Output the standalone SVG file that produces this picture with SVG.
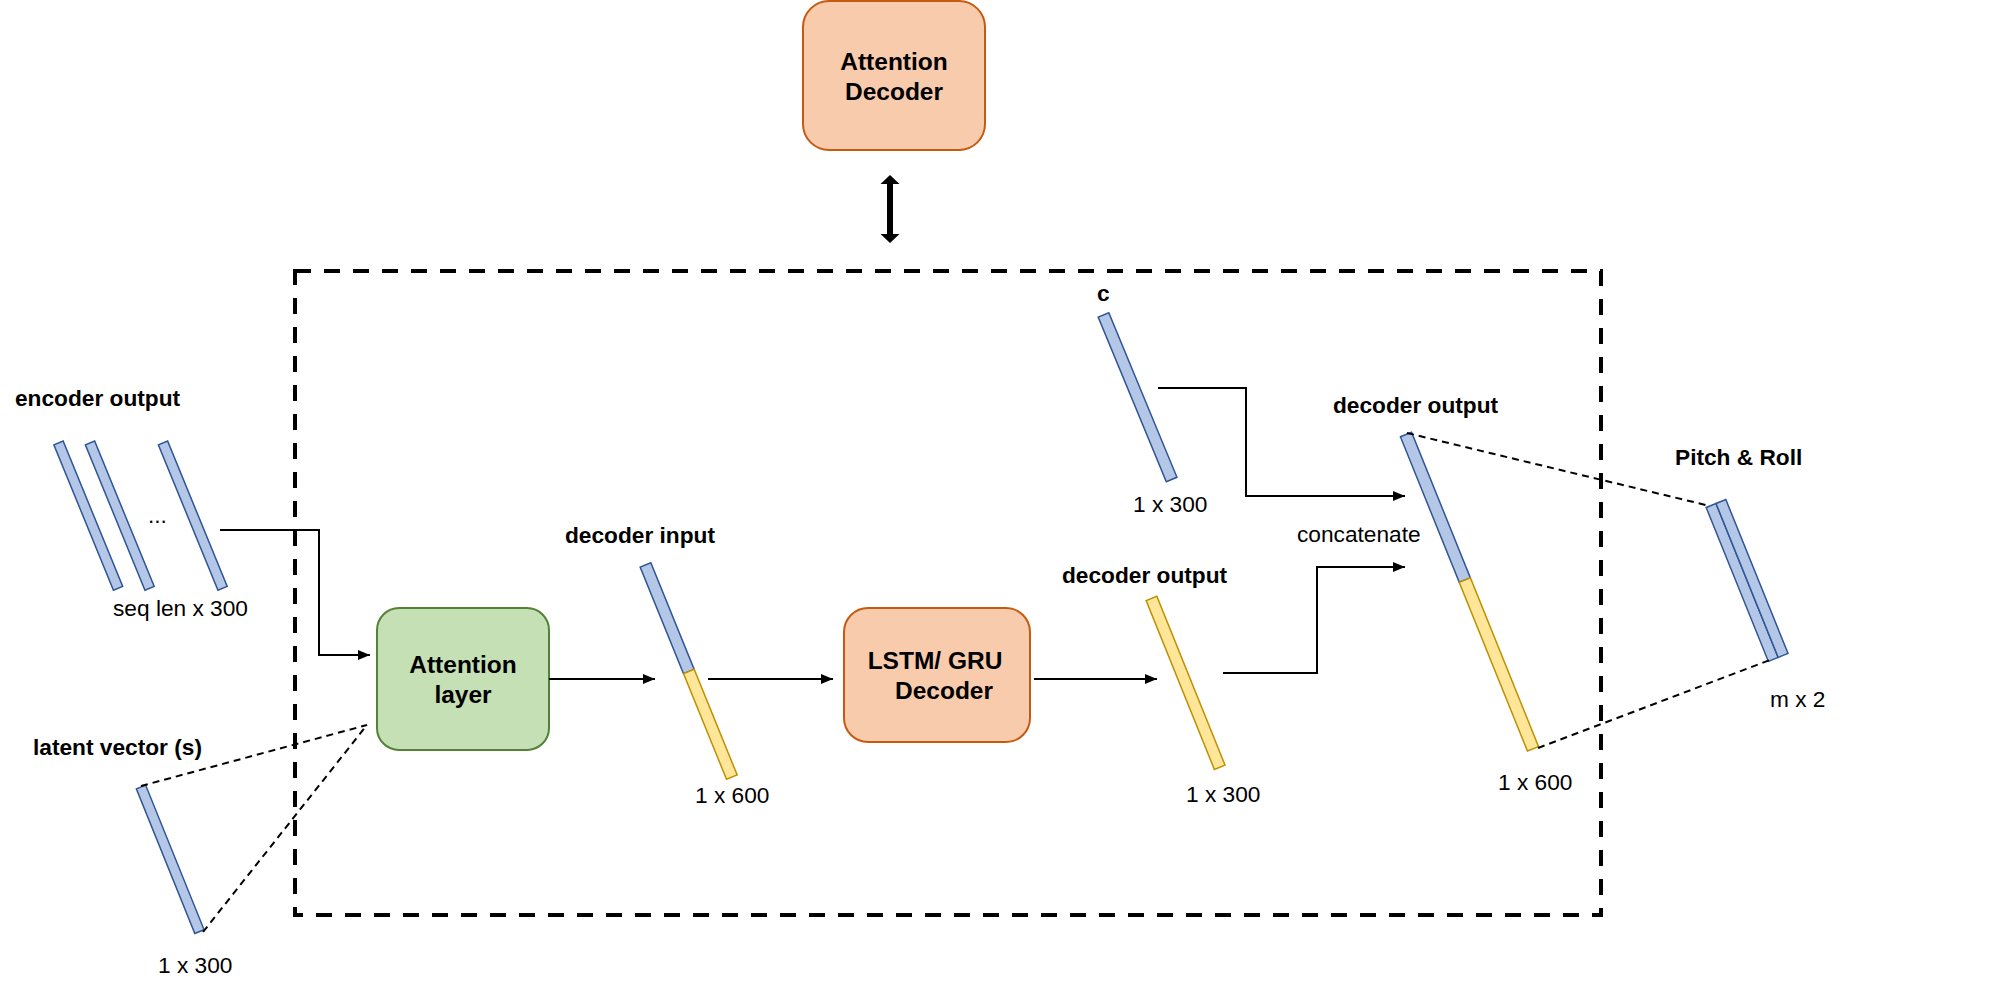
<svg xmlns="http://www.w3.org/2000/svg" width="1994" height="994" viewBox="0 0 1994 994">
<defs>
<marker id="ah" markerUnits="userSpaceOnUse" markerWidth="14" markerHeight="12" refX="12" refY="5" orient="auto">
<path d="M0,0 L12,5 L0,10 z" fill="#000"/>
</marker>
<style>
.lbl{font-family:"Liberation Sans",Arial,sans-serif;font-size:22.7px;fill:#000}
.b{font-weight:bold}
.box{font-family:"Liberation Sans",Arial,sans-serif;font-size:24.5px;font-weight:bold;fill:#000;text-anchor:middle}
.blue{fill:#B4C7E7;stroke:#2F5597;stroke-width:1.5}
.yel{fill:#FFE699;stroke:#BF9000;stroke-width:1.5}
.orange{fill:#F8CBAD;stroke:#C55A11;stroke-width:2}
.green{fill:#C5E0B4;stroke:#538135;stroke-width:2}
.conn{fill:none;stroke:#000;stroke-width:2}
.dash{fill:none;stroke:#000;stroke-width:2;stroke-dasharray:7 5}
</style>
</defs>
<rect width="1994" height="994" fill="#fff"/>

<g id="frame">
<rect x="295" y="271" width="1306" height="644" fill="none" stroke="#000" stroke-width="4" stroke-dasharray="16 13"/>
</g>

<g id="attention-decoder">
<rect class="orange" x="803" y="1" width="182" height="149" rx="26"/>
<text class="box" x="894" y="70">Attention</text>
<text class="box" x="894" y="100">Decoder</text>
</g>

<g id="double-arrow">
<polygon points="890,175 899.5,184 893,184 893,234 899.5,234 890,243 880.5,234 887,234 887,184 880.5,184" fill="#000"/>
</g>

<g id="encoder-output">
<text class="lbl b" x="15" y="406">encoder output</text>
<g transform="translate(58.5,443) rotate(-22.3)"><rect class="blue" x="-5" y="0" width="10" height="157"/></g>
<g transform="translate(90,443) rotate(-22.3)"><rect class="blue" x="-5" y="0" width="10" height="157"/></g>
<g transform="translate(163,443) rotate(-22.3)"><rect class="blue" x="-5" y="0" width="10" height="157"/></g>
<text class="lbl" x="148" y="523">...</text>
<text class="lbl" x="113" y="616">seq len x 300</text>
</g>

<g id="latent-vector">
<text class="lbl b" x="33" y="755">latent vector (s)</text>
<g transform="translate(141,787) rotate(-22)"><rect class="blue" x="-5" y="0" width="10" height="156"/></g>
<text class="lbl" x="158" y="973">1 x 300</text>
</g>

<g id="attention-layer">
<rect class="green" x="377" y="608" width="172" height="142" rx="22"/>
<text class="box" x="463" y="673">Attention</text>
<text class="box" x="463" y="703">layer</text>
</g>

<g id="decoder-input">
<text class="lbl b" x="565" y="543">decoder input</text>
<g transform="translate(645.5,565) rotate(-22.15)">
<rect class="blue" x="-5.75" y="0" width="11.5" height="115"/>
<rect class="yel" x="-5.75" y="115" width="11.5" height="114"/>
</g>
<text class="lbl" x="695" y="803">1 x 600</text>
</g>

<g id="lstm-decoder">
<rect class="orange" x="844" y="608" width="186" height="134" rx="24"/>
<text class="box" x="935" y="669">LSTM/ GRU</text>
<text class="box" x="944" y="699">Decoder</text>
</g>

<g id="decoder-output-mid">
<text class="lbl b" x="1062" y="583">decoder output</text>
<g transform="translate(1151.5,598.5) rotate(-22)"><rect class="yel" x="-5.75" y="0" width="11.5" height="182"/></g>
<text class="lbl" x="1186" y="802">1 x 300</text>
</g>

<g id="c-vector">
<text class="lbl b" x="1097" y="301">c</text>
<g transform="translate(1103.5,315) rotate(-22.5)"><rect class="blue" x="-5.75" y="0" width="11.5" height="178"/></g>
<text class="lbl" x="1133" y="512">1 x 300</text>
</g>

<g id="decoder-output-concat">
<text class="lbl b" x="1333" y="413">decoder output</text>
<g transform="translate(1406,434.5) rotate(-22)">
<rect class="blue" x="-6" y="0" width="12" height="157"/>
<rect class="yel" x="-6" y="157" width="12" height="182"/>
</g>
<text class="lbl" x="1498" y="790">1 x 600</text>
<text class="lbl" x="1297" y="542">concatenate</text>
</g>

<g id="pitch-roll">
<text class="lbl b" x="1675" y="465">Pitch &amp; Roll</text>
<g transform="translate(1716,503.5) rotate(-22)">
<rect class="blue" x="-10.6" y="0" width="10.6" height="166"/>
<rect class="blue" x="0" y="0" width="10.6" height="166"/>
</g>
<text class="lbl" x="1770" y="707">m x 2</text>
</g>

<g id="connectors">
<polyline class="conn" points="220,530 319,530 319,655 370,655" marker-end="url(#ah)"/>
<line class="conn" x1="549" y1="679" x2="655" y2="679" marker-end="url(#ah)"/>
<line class="conn" x1="708" y1="679" x2="833" y2="679" marker-end="url(#ah)"/>
<line class="conn" x1="1034" y1="679" x2="1157" y2="679" marker-end="url(#ah)"/>
<polyline class="conn" points="1223,673 1317,673 1317,567 1405,567" marker-end="url(#ah)"/>
<polyline class="conn" points="1158,388 1246,388 1246,496 1405,496" marker-end="url(#ah)"/>
<line class="dash" x1="141" y1="786" x2="367" y2="725"/>
<line class="dash" x1="203" y1="932" x2="367" y2="725"/>
<line class="dash" x1="1407" y1="433" x2="1710" y2="506"/>
<line class="dash" x1="1538" y1="748" x2="1770" y2="660"/>
</g>
</svg>
